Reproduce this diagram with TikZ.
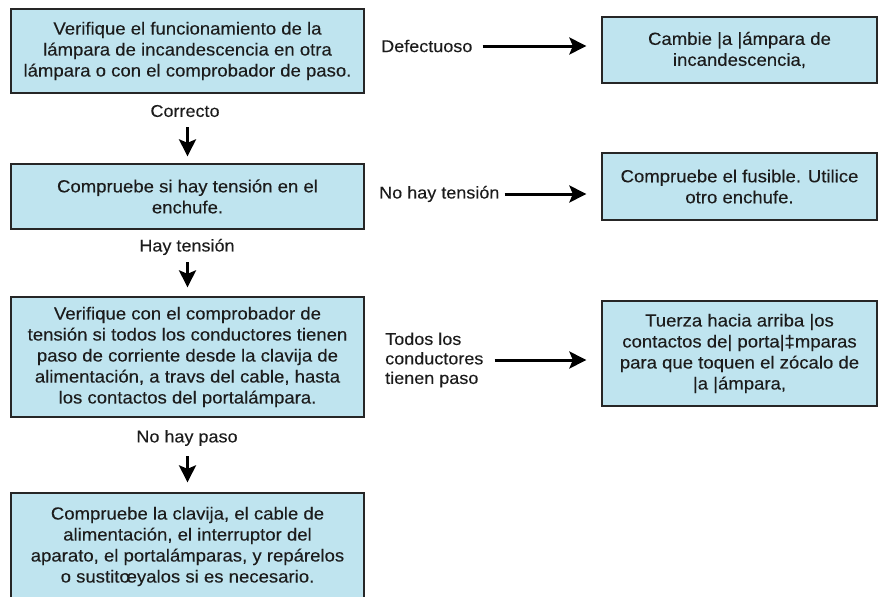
\documentclass[tikz,border=0pt]{standalone}
\usepackage{fontspec}
\setmainfont[FakeStretch=1.06,FakeBold=0.2]{Liberation Sans}
\usetikzlibrary{arrows.meta}
\definecolor{boxfill}{RGB}{191,228,239}
\definecolor{txt}{RGB}{28,28,28}
\begin{document}
\begin{tikzpicture}[x=1pt,y=-1pt,
 box/.style={draw=black!85, line width=1.3pt, fill=boxfill, text=txt, align=center, inner sep=0pt, font=\fontsize{17.5}{21}\selectfont},
 lbl/.style={text=txt, inner sep=0pt, font=\fontsize{17}{20}\selectfont},
 arr/.style={line width=3pt, -{Stealth[length=17pt,width=17pt,inset=3.5pt]}}]
\useasboundingbox (0,0) rectangle (879,597);
\clip (0,0) rectangle (879,597);
% left column
\node[box, minimum width=353pt, minimum height=84pt] (b1) at (187.5,51) {Verifique el funcionamiento de la\\lámpara de incandescencia en otra\\lámpara o con el comprobador de paso.};
\node[box, minimum width=353pt, minimum height=65pt] (b2) at (187.5,196.5) {Compruebe si hay tensión en el\\enchufe.};
\node[box, minimum width=353pt, minimum height=120pt] (b3) at (187.5,357) {Verifique con el comprobador de\\tensión si todos los conductores tienen\\paso de corriente desde la clavija de\\alimentación, a travs del cable, hasta\\los contactos del portalámpara.};
\node[box, minimum width=353pt, minimum height=107pt] (b4) at (187.5,546.5) {Compruebe la clavija, el cable de\\alimentación, el interruptor del\\aparato, el portalámparas, y repárelos\\o sustitœyalos si es necesario.};
% right column
\node[box, minimum width=275pt, minimum height=66pt] (r1) at (739.5,50) {Cambie |a |ámpara de\\incandescencia,};
\node[box, minimum width=275pt, minimum height=67pt] (r2) at (739.5,186.5) {Compruebe el fusible. Utilice\\otro enchufe.};
\node[box, minimum width=275pt, minimum height=105pt] (r3) at (739.5,353.5) {Tuerza hacia arriba |os\\contactos de| porta|‡mparas\\para que toquen el zócalo de\\|a |ámpara,};
% labels
\node[lbl] (c1) at (185,111) {Correcto};
\node[lbl] (c2) at (187,247) {Hay tensión};
\node[lbl] (c3) at (187,438) {No hay paso};
\node[lbl, anchor=west] (d1) at (381,46) {Defectuoso};
\node[lbl, anchor=west] (d2) at (379,194) {No hay tensión};
\node[lbl, anchor=west, align=left, font=\fontsize{17}{19.5}\selectfont] (d3) at (385,360) {Todos los\\conductores\\tienen paso};
% arrows
\draw[arr, shorten <=10pt, shorten >=7pt] (c1.south -| b1.south) -- (b2.north);
\draw[arr, shorten <=7pt, shorten >=9pt] (c2.south -| b1.south) -- (b3.north);
\draw[arr, shorten <=10pt, shorten >=10pt] (c3.south -| b1.south) -- (b4.north);
\draw[arr, shorten <=10pt, shorten >=15pt] (d1.east) -- (d1.east -| r1.west);
\draw[arr, shorten <=5pt, shorten >=15pt] (d2.east) -- (d2.east -| r2.west);
\draw[arr, shorten <=11pt, shorten >=15pt] (d3.east) -- (d3.east -| r3.west);
\end{tikzpicture}
\end{document}
